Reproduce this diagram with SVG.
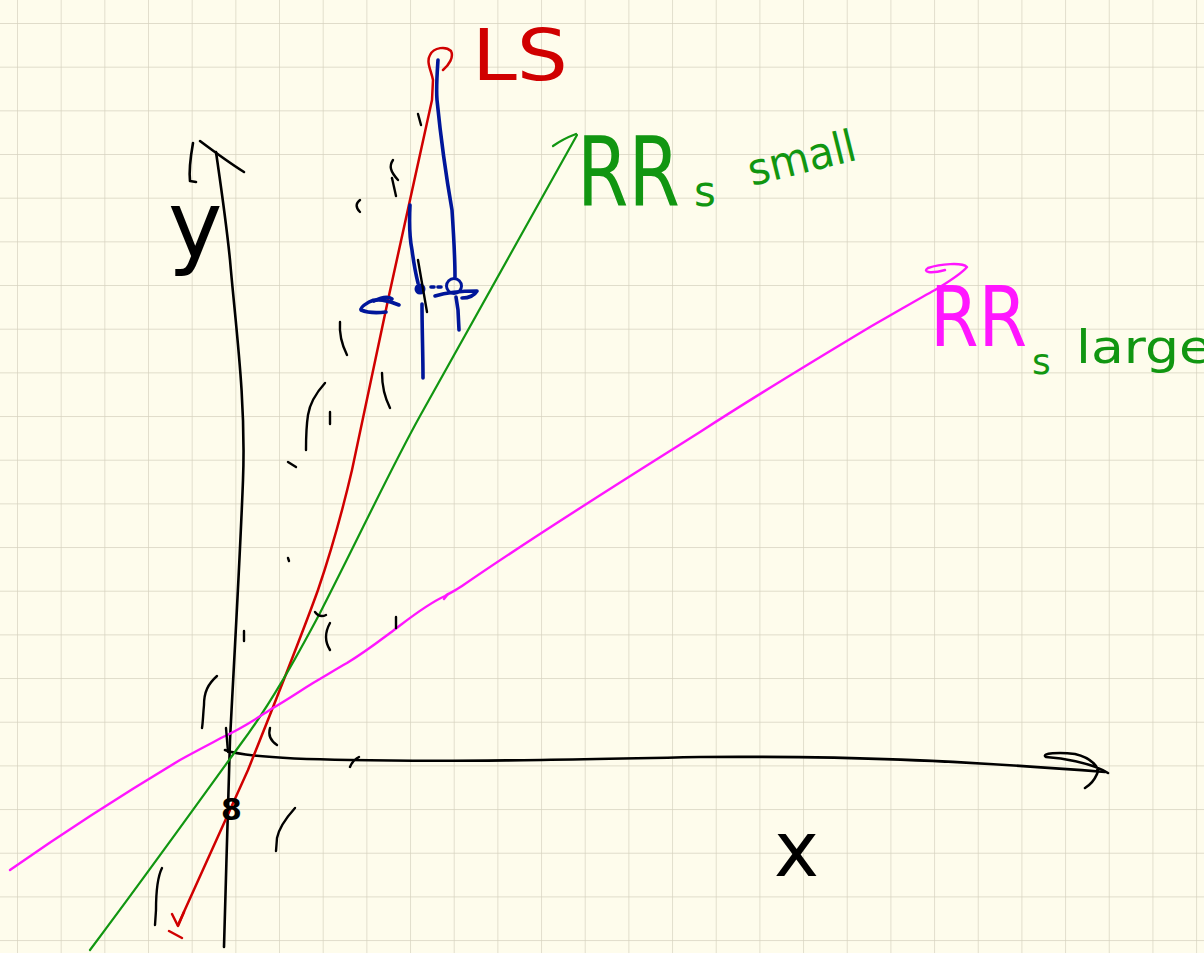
<svg xmlns="http://www.w3.org/2000/svg" width="1204" height="953" viewBox="0 0 1204 953">
<defs>
<pattern id="grid" x="17" y="23" width="43.67" height="43.67" patternUnits="userSpaceOnUse">
<path d="M0,0 H43.67 M0,0 V43.67" fill="none" stroke="#d6d2bf" stroke-width="1.4"/>
</pattern>
<style>
.ink{fill:none;stroke-linecap:round;stroke-linejoin:round}
.k{stroke:#000;stroke-width:2.6}
.kt{stroke:#000;stroke-width:2.4}
.r{stroke:#d00000;stroke-width:2.5}
.g{stroke:#119611;stroke-width:2.2}
.m{stroke:#ff16ff;stroke-width:2.4}
.b{stroke:#00169a;stroke-width:3.6}
.lbl{font-family:"DejaVu Sans","Liberation Sans",sans-serif}
</style>
</defs>
<rect width="1204" height="953" fill="#fefcec"/>
<rect width="1204" height="953" fill="url(#grid)"/>

<g id="axes">
<path class="ink k" d="M224,947 C226,880 228,800 230,740 C233,680 240,560 243,480 C246,400 236,330 230,260 C226,220 220,180 216,152"/>
<path class="ink k" d="M200,141 C212,150 228,162 244,172"/>
<path class="ink k" d="M193,143 C190,160 189,172 190,181 L196,182"/>
<path class="ink k" d="M225,750 C240,756 280,759 350,760 C450,762 550,760 700,757 C850,756 950,760 1105,772"/>
<path class="ink k" d="M1108,773 C1090,762 1060,758 1046,757 C1040,753 1060,752 1075,754 C1092,758 1100,768 1097,774 C1094,781 1090,785 1085,788"/>
</g>

<g id="connectors">
<path class="ink r" d="M178,925 L248,770 C268,720 300,640 318,590 C335,540 345,500 352,470 L388,300 L432,100 L433,80 C431,70 426,62 430,55 C434,47 446,46 451,51 C454,57 449,65 443,70"/>
<path class="ink r" d="M172,914 L178,926 L184,912"/>
<path class="ink r" d="M169,931 L182,938"/>
<path class="ink g" d="M90,950 C150,870 200,800 240,745 C270,705 295,660 320,613 C360,535 390,470 420,416 L577,135"/>
<path class="ink g" d="M553,146 C560,141 568,137 576,134"/>
<path class="ink m" d="M10,870 C60,835 130,790 180,760 C200,749 212,743 223,737 C245,727 260,716 273,708 C290,698 300,691 313,683 C330,673 338,668 347,663 C365,652 378,642 390,633 C405,622 425,605 445,596 C452,592 456,590 462,586 C540,532 640,470 700,432 C760,393 820,357 870,327 C900,310 920,298 935,290 C950,281 962,273 967,267 C962,262 940,264 928,268 C922,272 930,274 945,270"/>
<path class="ink m" d="M444,599 L448,594" stroke-width="2"/>
</g>

<g id="blue-marks">
<path class="ink b" d="M438,60 C437,75 436,88 437,100 C440,130 445,170 452,210 C454,240 455,260 455,277"/>
<circle cx="454" cy="286" r="7.5" fill="none" stroke="#00169a" stroke-width="3"/>
<path class="ink b" d="M456,297 L458,310 L459,330"/>
<path class="ink b" d="M410,205 C409,225 410,240 412,250 C414,265 416,275 418,283"/>
<circle cx="420" cy="289" r="5.5" fill="#00169a"/>
<path class="ink b" d="M422,304 C422,330 423,355 423,378"/>
<path class="ink b" d="M431,287 L434,287 M438,287 L441,287" stroke-width="2.4"/>
<path class="ink b" d="M435,296 C448,292 465,291 477,291 C474,296 468,298 462,298" stroke-width="2.8"/>
<path class="ink b" d="M399,305 C388,300 376,298 369,302 C364,305 360,308 361,310 C368,313 378,313 386,312" stroke-width="2.8"/>
<path class="ink b" d="M374,301 C380,298 388,296 392,299" stroke-width="2.4"/>
</g>

<g id="data-points">
<path class="ink kt" d="M418,260 L427,312"/>
<path class="ink kt" d="M418,114 L421,125"/>
<path class="ink kt" d="M393,160 C389,166 390,171 398,180"/>
<path class="ink kt" d="M392,178 L396,196"/>
<path class="ink kt" d="M360,200 C356,203 355,207 360,212"/>
<path class="ink kt" d="M340,322 C339,335 342,345 347,355"/>
<path class="ink kt" d="M382,373 C382,388 385,398 390,408"/>
<path class="ink kt" d="M325,383 C316,393 310,402 308,415 C306,428 306,440 306,450"/>
<path class="ink kt" d="M330,412 L330,424"/>
<path class="ink kt" d="M288,462 L296,467"/>
<path class="ink kt" d="M288,558 L289,561"/>
<path class="ink kt" d="M315,612 C318,616 322,617 326,615"/>
<path class="ink kt" d="M330,623 C325,632 325,642 330,650"/>
<path class="ink kt" d="M396,617 L396,628"/>
<path class="ink kt" d="M244,631 L244,641"/>
<path class="ink kt" d="M217,676 C208,684 204,692 204,705 C203,715 203,722 202,728"/>
<path class="ink kt" d="M270,728 C268,735 271,741 277,745"/>
<path class="ink kt" d="M226,728 L228,752"/>
<path class="ink kt" d="M350,767 C352,762 355,759 359,757"/>
<path class="ink kt" d="M295,808 C286,818 279,828 277,838 L276,851"/>
<path class="ink kt" d="M162,868 C157,878 156,895 156,910 L155,925"/>
</g>

<g id="labels" class="lbl">
<text x="472" y="80" font-size="72" fill="#d00000" textLength="96" lengthAdjust="spacingAndGlyphs">LS</text>
<text transform="translate(577,206) scale(1,1.3)" font-size="74" fill="#119611">RR</text>
<text x="694" y="206" font-size="42" fill="#119611">s</text>
<text x="752" y="186" font-size="44" fill="#119611" textLength="110" lengthAdjust="spacingAndGlyphs" transform="rotate(-14 752 186)">small</text>
<text transform="translate(930,346) scale(1,1.2)" font-size="70" fill="#ff16ff">RR</text>
<text x="1032" y="374" font-size="36" fill="#119611">s</text>
<text x="1076" y="363" font-size="46" fill="#119611" textLength="136" lengthAdjust="spacingAndGlyphs">large</text>
<text x="168" y="257" font-size="92" fill="#000">y</text>
<text x="774" y="876" font-size="76" fill="#000">x</text>
<text x="221" y="820" font-size="30" font-weight="bold" fill="#000">8</text>
</g>
</svg>
